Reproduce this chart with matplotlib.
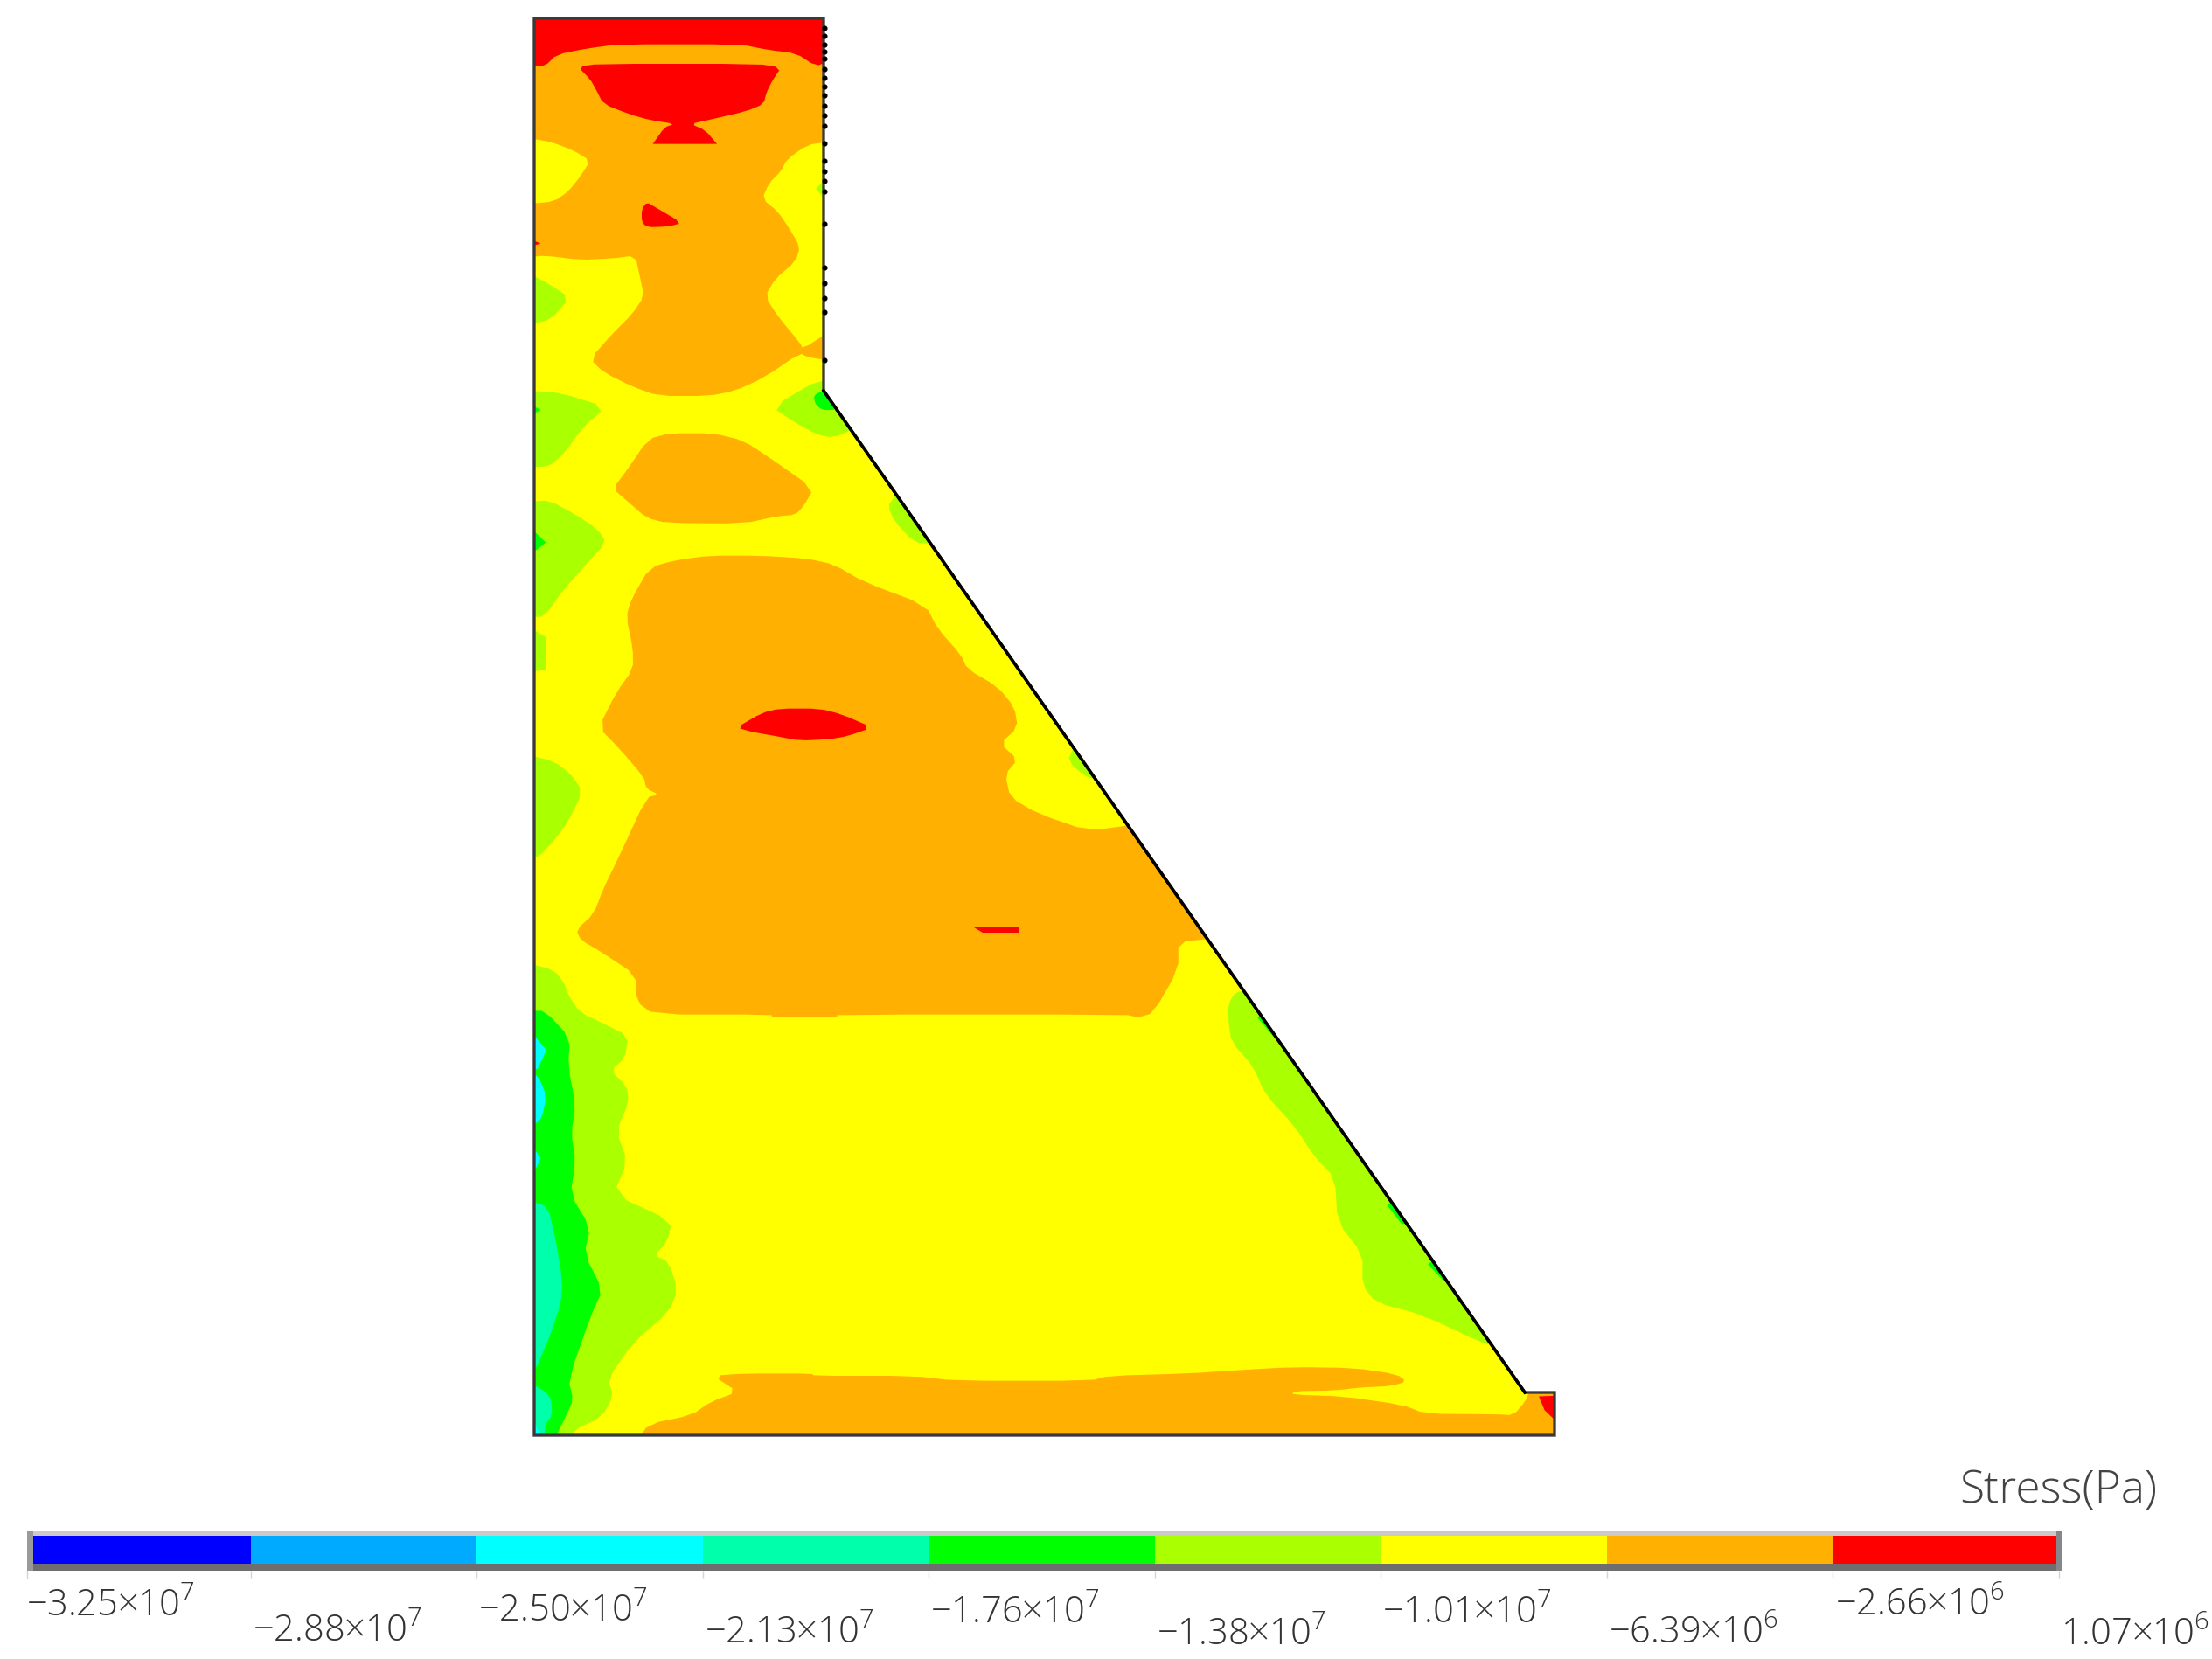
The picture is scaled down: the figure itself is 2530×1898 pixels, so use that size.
import matplotlib
matplotlib.use('Agg')
import matplotlib.pyplot as plt
from matplotlib.colors import ListedColormap
from matplotlib.patches import Polygon, Rectangle

plt.rcParams['mathtext.fontset'] = 'custom'
plt.rcParams['mathtext.rm'] = 'Open Sans:light'
plt.rcParams['mathtext.default'] = 'rm'
plt.rcParams['font.family'] = ['Open Sans', 'DejaVu Sans']

# Legend of the stress field
LEVELS = [-3.25e7, -2.877e7, -2.504e7, -2.131e7, -1.758e7, -1.385e7, -1.012e7, -6.39e6, -2.66e6, 1.07e6]
LEVEL_LABELS = [r'$-3.25{\times}10^{7}$', r'$-2.88{\times}10^{7}$', r'$-2.50{\times}10^{7}$',
                r'$-2.13{\times}10^{7}$', r'$-1.76{\times}10^{7}$', r'$-1.38{\times}10^{7}$',
                r'$-1.01{\times}10^{7}$', r'$-6.39{\times}10^{6}$', r'$-2.66{\times}10^{6}$',
                r'$1.07{\times}10^{6}$']
BAND_COLORS = ['#0000ff', '#00aaff', '#00ffff', '#00ffaa', '#00ff00',
               '#aaff00', '#ffff00', '#ffb000', '#ff0000']
BLUE, SKY, CYAN, SPRING, GREEN, LIME, YELLOW, ORANGE, RED = BAND_COLORS
LABEL_Y = [1838, 1867, 1844, 1869, 1846, 1871, 1846, 1869, 1837, 1871]

# Dam section outline, full-size pixels
DAM = [(611, 22), (942, 22), (942, 448), (1744, 1594), (1778, 1594), (1778, 1643), (611, 1643)]
RIGHT_DOTS_Y = [33, 42, 52, 60, 68, 80, 90, 100, 110, 122, 133, 145, 165, 185, 197, 208, 220,
                257, 307, 325, 342, 358, 413]

# Contour outlines: (x0, y0, x scale, y scale)
Z3 = (590, 0, 3, 3)
Z4 = (590, 1100, 3, 2.786)
Z5 = (590, 420, 2.613, 3)
Z6 = (590, 800, 1.742, 3)
Z7 = (1300, 1050, 3, 2.516)
Z8 = (700, 1540, 1.4255, 3)


def crop(pts, z):
    x0, y0, sx, sy = z
    return [(x0 + px / sx, y0 + py / sy) for px, py in pts]


def soften(pts, cut=0.22):
    # round the corners a little, a repeated point stays a sharp corner
    out = []
    for i, (xa, ya) in enumerate(pts):
        xb, yb = pts[(i + 1) % len(pts)]
        out.append((xa + cut * (xb - xa), ya + cut * (yb - ya)))
        out.append((xb - cut * (xb - xa), yb - cut * (yb - ya)))
    return out


top_orange = [(50, 60), (50, 60), (1070, 60), (1070, 60), (1070, 1240), (1070, 1240), (1000, 1228), (975, 1215),
              (850, 1300), (750, 1345), (660, 1362), (490, 1362), (400, 1330), (300, 1280), (255, 1235), (330, 1150),
              (400, 1080), (440, 1020), (425, 950), (410, 880), (330, 890), (220, 895), (100, 880), (50, 885),
              (50, 885)]
top_red = [(50, 60), (50, 60), (1070, 60), (1070, 60), (1070, 215), (1070, 215), (1030, 230), (960, 185), (870, 175),
           (770, 155), (350, 155), (240, 170), (140, 190), (100, 230), (50, 230), (50, 230)]
cup_red = [(213, 232), (285, 222), (830, 222), (910, 235), (880, 280), (860, 320), (850, 360), (790, 385),
           (660, 415), (600, 428), (650, 450), (690, 497), (690, 497), (470, 497), (470, 497), (510, 440), (545, 428),
           (460, 415), (390, 395), (300, 360), (275, 310), (255, 275)]
tri_red = [(450, 697), (480, 715), (570, 768), (525, 780), (450, 783), (432, 765), (432, 720)]
tick_red = [(50, 825), (85, 838), (50, 850)]
yellow_left = [(50, 478), (120, 490), (200, 520), (255, 555), (220, 610), (180, 660), (130, 695), (50, 702)]
yellow_right = [(1070, 490), (1000, 500), (930, 550), (910, 590), (870, 630), (845, 685), (900, 730),
                (940, 790), (975, 850), (960, 900), (890, 960), (855, 1020), (900, 1090), (975, 1180),
                (985, 1200), (1070, 1145)]
lime_sliver_top = [(1070, 610), (1030, 650), (1070, 700)]
lime_upper_left = [(50, 945), (110, 975), (185, 1025), (120, 1100), (50, 1115)]

lime_a = [(40, 85), (130, 90), (270, 140), (200, 210), (150, 290), (110, 335), (85, 345), (40, 345)]
green_a = [(40, 130), (75, 150), (40, 170)]
lime_notch = [(915, 40), (765, 140), (830, 190), (900, 235), (950, 245), (1010, 215), (1010, 215), (930, 85), (930, 85)]
green_notch = [(915, 85), (890, 100), (895, 130), (915, 150), (960, 150), (930, 85)]
mid_orange = [(395, 250), (460, 230), (590, 230), (680, 255), (760, 315), (890, 420), (860, 480), (835, 510),
              (780, 515), (680, 540), (450, 538), (390, 520), (340, 470), (290, 420), (330, 360)]
lime_b = [(40, 465), (100, 460), (180, 510), (245, 560), (270, 605), (210, 680), (140, 770), (85, 860), (40, 860)]
green_b = [(40, 550), (90, 605), (40, 650)]
lime_c = [(40, 895), (90, 930), (90, 1040), (40, 1050)]
lime_sliver_a = [(1130, 450), (1112, 480), (1130, 530), (1190, 605), (1250, 610), (1145, 430)]

orange_upper = [(400, 690), (480, 665), (580, 650), (730, 650), (870, 660), (950, 680), (1040, 740),
                (1225, 820), (1260, 900), (1330, 990), (1350, 1040), (1440, 1100), (1490, 1170)]
orange_right = [(1000, 100), (965, 155), (1000, 210), (975, 260), (985, 340), (1040, 395), (1140, 455),
                (1225, 435), (1225, 435), (1385, 825), (1385, 825), (1320, 835), (1320, 930), (1270, 1080), (1240, 1095),
                (1215, 1085), (640, 1085), (640, 1095), (510, 1095), (510, 1085), (275, 1085), (240, 1040), (240, 950),
                (170, 870), (130, 830), (120, 795), (155, 740), (175, 650), (205, 545), (260, 340), (285, 330),
                (260, 310), (255, 270), (205, 170), (165, 100)]
orange_left = [(300, 1120), (350, 1040), (350, 970), (330, 860), (345, 800)]
ellipse_red = [(440, 100), (490, 50), (525, 35), (605, 35), (650, 55), (710, 100), (660, 130), (625, 140),
               (565, 145), (520, 130), (470, 115)]
dash_red = [(912, 785), (1003, 785), (1003, 803), (930, 803)]
lime_d = [(25, 195), (75, 215), (110, 260), (133, 320), (105, 420), (75, 490), (45, 545), (25, 545)]
lime_sliver_b = [(1110, 170), (1100, 215), (1135, 270), (1170, 280), (1135, 170)]

lime_e = [(50, 10), (130, 30), (165, 70), (180, 110), (220, 165), (300, 200), (385, 240), (375, 310), (325, 350),
          (380, 400), (388, 450), (345, 545), (383, 640), (335, 745), (535, 830), (520, 895), (475, 940),
          (525, 960), (555, 1050), (525, 1120), (400, 1220), (315, 1335), (335, 1385), (295, 1455), (200, 1495),
          (195, 1530), (195, 1530), (50, 1530), (50, 1530)]
green_e = [(50, 160), (100, 160), (185, 245), (180, 340), (205, 460), (190, 550), (205, 640), (187, 745),
           (255, 850), (235, 935), (298, 1050), (260, 1125), (180, 1335), (197, 1400), (175, 1445), (130, 1530),
           (130, 1530), (50, 1530), (50, 1530)]
spring_a = [(50, 765), (110, 785), (135, 880), (160, 1020), (155, 1090), (120, 1190), (65, 1310), (50, 1310)]
spring_b = [(50, 1345), (120, 1385), (125, 1450), (100, 1480), (100, 1530), (100, 1530), (50, 1530), (50, 1530)]
cyan_a = [(50, 225), (105, 285), (75, 345), (50, 345)]
cyan_b = [(50, 365), (75, 365), (105, 430), (90, 500), (68, 520), (50, 520)]
cyan_c = [(50, 580), (85, 630), (65, 670), (50, 670)]
cyan_d = [(50, 1450), (95, 1530), (50, 1530)]

lime_slope = [(340, 215), (315, 250), (315, 300), (325, 360), (400, 430), (440, 510), (540, 600), (610, 690),
              (680, 750), (690, 880), (775, 970), (775, 1060), (820, 1110), (980, 1145), (1195, 1230), (1225, 1230),
              (1225, 1230), (390, 215), (390, 215)]
green_slope_a = [(415, 290), (470, 345), (490, 340), (430, 280)]
green_slope_b = [(860, 830), (910, 885), (930, 880), (875, 820)]
green_slope_c = [(1000, 1000), (1050, 1045), (1070, 1040), (1015, 990)]
red_corner = [(1380, 1380), (1450, 1378), (1450, 1460), (1400, 1420)]

foot_orange = [(165, 105), (215, 97), (325, 97), (330, 105), (490, 105), (560, 122), (780, 122), (810, 105),
               (940, 97), (1025, 85), (1110, 75), (1210, 78), (1280, 100), (1295, 125), (1270, 140), (1220, 145),
               (1180, 155), (1110, 158), (1110, 170), (1190, 175), (1290, 205), (1325, 235), (1440, 237),
               (1470, 240), (1490, 190), (1495, 160), (1560, 160), (1560, 160), (1560, 330), (1560, 330), (40, 330),
               (40, 330), (60, 270), (130, 240), (160, 195), (205, 160)]

REGIONS = [
    (ORANGE, crop(top_orange, Z3)), (RED, crop(top_red, Z3)), (RED, crop(cup_red, Z3)),
    (RED, crop(tri_red, Z3)), (RED, crop(tick_red, Z3)), (YELLOW, crop(yellow_left, Z3)),
    (YELLOW, crop(yellow_right, Z3)), (LIME, crop(lime_sliver_top, Z3)), (LIME, crop(lime_upper_left, Z3)),
    (LIME, crop(lime_a, Z5)), (GREEN, crop(green_a, Z5)), (LIME, crop(lime_notch, Z5)),
    (GREEN, crop(green_notch, Z5)), (ORANGE, crop(mid_orange, Z5)), (LIME, crop(lime_b, Z5)),
    (GREEN, crop(green_b, Z5)), (LIME, crop(lime_c, Z5)), (LIME, crop(lime_sliver_a, Z5)),
    (ORANGE, crop(orange_upper, Z5) + crop(orange_right, Z6) + crop(orange_left, Z5)),
    (RED, crop(ellipse_red, Z6)), (RED, crop(dash_red, Z6)), (LIME, crop(lime_d, Z6)),
    (LIME, crop(lime_sliver_b, Z6)), (LIME, crop(lime_e, Z4)), (GREEN, crop(green_e, Z4)),
    (SPRING, crop(spring_a, Z4)), (SPRING, crop(spring_b, Z4)), (CYAN, crop(cyan_a, Z4)),
    (CYAN, crop(cyan_b, Z4)), (CYAN, crop(cyan_c, Z4)), (CYAN, crop(cyan_d, Z4)),
    (LIME, crop(lime_slope, Z7)), (GREEN, crop(green_slope_a, Z7)), (GREEN, crop(green_slope_b, Z7)),
    (GREEN, crop(green_slope_c, Z7)), (ORANGE, crop(foot_orange, Z8)), (RED, crop(red_corner, Z7)),
]

W, H = 2530, 1899
fig = plt.figure(figsize=(W / 100, H / 100), dpi=100, facecolor='white')
ax = fig.add_axes([0, 0, 1, 1])
ax.set_xlim(0, W)
ax.set_ylim(H, 0)
ax.axis('off')

# contour bands, painted low to high and clipped by the section
dam_patch = Polygon(DAM, closed=True, facecolor=YELLOW, edgecolor='none', zorder=1)
ax.add_patch(dam_patch)
for color, pts in REGIONS:
    outline = pts if len(pts) <= 4 else soften(pts)
    band = Polygon(outline, closed=True, facecolor=color, edgecolor='none', zorder=2)
    ax.add_patch(band)
    band.set_clip_path(dam_patch)

# section outline
ax.add_patch(Polygon(DAM, closed=True, fill=False, edgecolor='#3a3a3a', linewidth=2.4, zorder=3))
ax.plot([942, 1744], [448, 1594], color='black', linewidth=2.6, zorder=4)
ax.plot([943] * len(RIGHT_DOTS_Y), RIGHT_DOTS_Y, ls='none', marker='o', ms=3.4, color='black', zorder=4)

# legend bar, x in Pa and y in figure pixels
BAR_L, BAR_R, BAR_T, BAR_B = 31, 2358, 1752, 1798
pa_per_px = (LEVELS[-1] - LEVELS[0]) / (BAR_R - BAR_L)
shift = 3 * pa_per_px
x_left, x_right = LEVELS[0] + shift, LEVELS[-1] + shift
span = x_right - x_left
bar_ax = fig.add_axes([BAR_L / W, 1 - BAR_B / H, (BAR_R - BAR_L) / W, (BAR_B - BAR_T) / H], zorder=2)
bar_ax.set_xlim(x_left, x_right)
bar_ax.set_ylim(BAR_B, BAR_T)
bar_ax.pcolormesh(LEVELS, [1758, 1790], [list(range(9))], cmap=ListedColormap(BAND_COLORS), vmin=0, vmax=8)
bar_ax.add_patch(Rectangle((x_left, BAR_T), span, 6, facecolor='#cdc9c8', edgecolor='none'))
bar_ax.add_patch(Rectangle((x_left, 1790), span, 8, facecolor='#6f6d70', edgecolor='none'))
bar_ax.add_patch(Rectangle((x_left, BAR_T), 7 * pa_per_px, BAR_B - BAR_T, facecolor='#9a9a9a', edgecolor='none'))
bar_ax.add_patch(Rectangle((x_right - 6 * pa_per_px, BAR_T), 6 * pa_per_px, BAR_B - BAR_T,
                           facecolor='#85888a', edgecolor='none'))
for side in bar_ax.spines.values():
    side.set_visible(False)
bar_ax.set_yticks([])
bar_ax.set_xticks(LEVELS[1:])
bar_ax.tick_params(axis='x', length=6, width=1, color='#d4d4d4', labelbottom=False)
ax.plot([BAR_L, BAR_L], [BAR_B, BAR_B + 8], color='#d4d4d4', linewidth=1)

for lv, label, y in zip(LEVELS, LEVEL_LABELS, LABEL_Y):
    bar_ax.annotate(label, (lv, y), xytext=(1.5, 0), textcoords='offset points', va='center', ha='left',
                    fontsize=30, color='#333333', annotation_clip=False)

ax.text(2241, 1705, 'Stress(Pa)', fontsize=37, fontweight='light', color='#444444', va='center', ha='left')

fig.savefig('out.png', dpi=100)
